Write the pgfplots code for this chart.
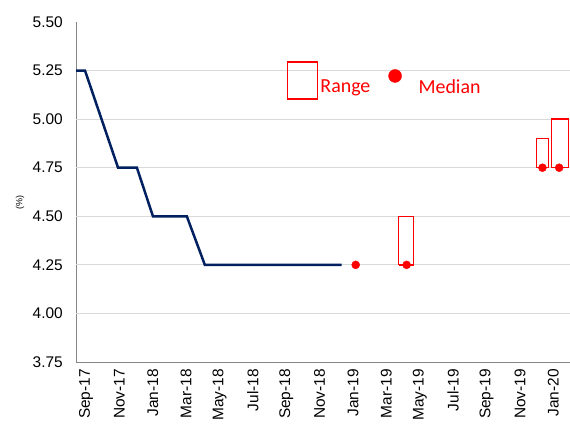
\documentclass[border=0pt]{standalone}
\usepackage{fontspec}
\setmainfont{Liberation Sans}
\newfontfamily\carlito{Carlito}
\usepackage{pgfplots}
\pgfplotsset{compat=1.18}

\definecolor{navyline}{RGB}{0,32,96}
\definecolor{axisgray}{RGB}{134,134,134}
\definecolor{gridgray}{RGB}{217,217,217}
\definecolor{rangered}{RGB}{255,0,0}

\begin{document}
\begin{tikzpicture}
\path[use as bounding box] (0,0) rectangle (570bp,425bp);
\begin{axis}[
    at={(76bp,63bp)}, anchor=south west,
    scale only axis, width=494bp, height=340bp,
    xmin=-0.6, xmax=29,
    ymin=3.75, ymax=5.5,
    axis lines=left,
    axis line style={axisgray, line width=0.8bp, -},
    xtick={0,2,...,28},
    xticklabels={Sep-17,Nov-17,Jan-18,Mar-18,May-18,Jul-18,Sep-18,Nov-18,Jan-19,Mar-19,May-19,Jul-19,Sep-19,Nov-19,Jan-20},
    ytick={3.75,4,4.25,4.5,4.75,5,5.25,5.5},
    major tick length=0pt,
    extra y ticks={4,4.25,4.5,4.75,5,5.25},
    extra y tick labels={},
    extra y tick style={grid=major},
    major grid style={gridgray, line width=0.8bp},
    yticklabel style={font=\fontsize{15.5}{18}\selectfont, anchor=east, inner sep=0pt,
        /pgf/number format/.cd, fixed, fixed zerofill, precision=2, assume math mode=true},
    yticklabel shift=13bp,
    xticklabel style={font=\fontsize{15.5}{18}\selectfont, rotate=90, anchor=east, inner sep=0pt},
    xticklabel shift=7bp,
    ylabel={(\%)},
    every axis y label/.style={at={(axis description cs:-0.113,0.468)}, rotate=90, anchor=center,
        font=\fontsize{9}{10}\selectfont},
    clip=false,
    legend columns=2,
    legend style={at={(0.427,0.885)}, anchor=north west, draw=none, fill=none,
        inner sep=0pt, font=\carlito\fontsize{20}{24}\selectfont, text=rangered,
        /tikz/every even column/.append style={column sep=16bp}},
]

\addlegendimage{legend image code/.code={
    \draw[rangered, line width=1.3bp] (0bp,-12bp) rectangle (30bp,25bp);}}
\addlegendentry{Range}
\addlegendimage{legend image code/.code={
    \fill[rangered] (6.5bp,11bp) circle (6.5bp);
    \path[draw=none, fill=none] (0bp,0bp) rectangle (28bp,1bp);}}
\addlegendentry{Median}

% policy rate path
\addplot[navyline, line width=2.5bp, forget plot] coordinates {
    (-0.6,5.25) (-0.06,5.25) (1.92,4.75) (3.05,4.75) (4.01,4.50)
    (6.04,4.50) (7.12,4.25) (15.32,4.25)
};

% ranges
\addplot[rangered, line width=1.3bp, forget plot] coordinates {
    (18.73,4.25) (19.63,4.25) (19.63,4.50) (18.73,4.50) (18.73,4.25)
};
\addplot[rangered, line width=1.3bp, forget plot] coordinates {
    (26.99,4.75) (27.71,4.75) (27.71,4.90) (26.99,4.90) (26.99,4.75)
};
\addplot[rangered, line width=1.3bp, forget plot] coordinates {
    (27.89,4.75) (28.90,4.75) (28.90,5.00) (27.89,5.00) (27.89,4.75)
};

% medians
\addplot[only marks, mark=*, mark size=4bp, rangered, forget plot] coordinates {
    (16.16,4.25) (19.21,4.25) (27.35,4.75) (28.35,4.75)
};

\end{axis}
\end{tikzpicture}
\end{document}
